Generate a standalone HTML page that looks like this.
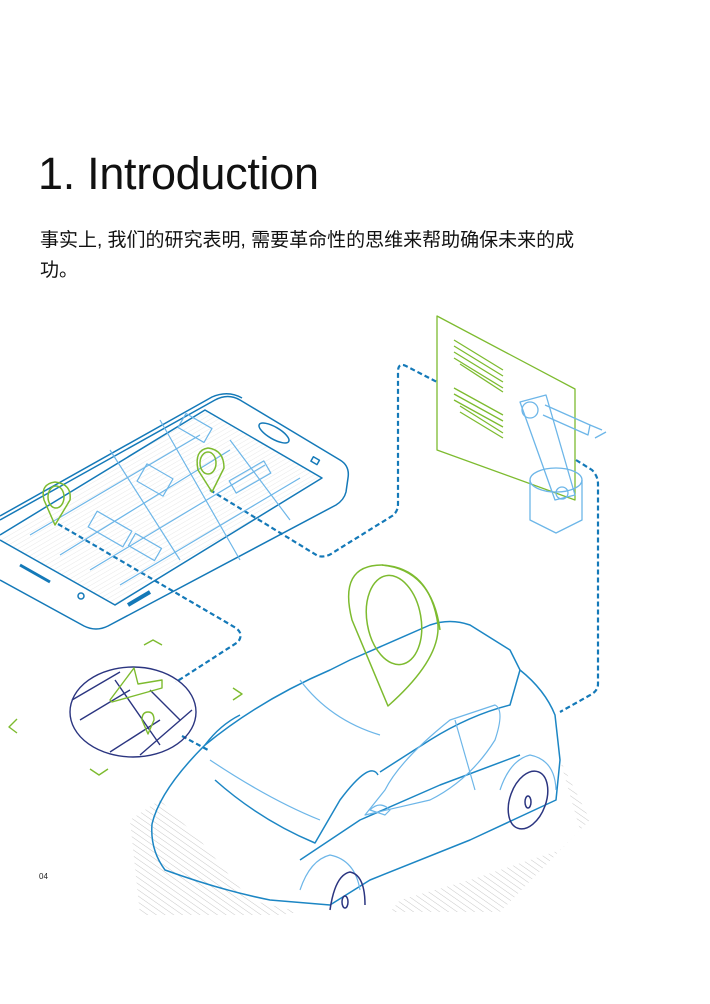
<!DOCTYPE html>
<html><head><meta charset="utf-8"><style>
html,body{margin:0;padding:0;background:#fff;}
body{width:710px;height:1004px;position:relative;overflow:hidden;font-family:"Liberation Sans","Noto Sans CJK SC",sans-serif;}
h1{position:absolute;left:38px;top:148px;margin:0;font-size:45px;font-weight:normal;color:#111;letter-spacing:-0.3px;}
p{position:absolute;left:40px;top:226px;width:572px;margin:0;font-size:19px;line-height:30px;color:#111;}
.pg{position:absolute;left:39px;top:872px;font-size:8px;color:#222;}
svg{position:absolute;left:0;top:0;}
</style></head><body>
<h1>1. Introduction</h1>
<p>事实上, 我们的研究表明, 需要革命性的思维来帮助确保未来的成功。</p>
<div class="pg">04</div>
<svg width="710" height="1004" viewBox="0 0 710 1004" fill="none" stroke-linejoin="round">
<defs><pattern id="h" width="5" height="5" patternUnits="userSpaceOnUse" patternTransform="rotate(-55)"><line x1="0" y1="0" x2="0" y2="5" stroke="#bbb" stroke-width="0.8"/></pattern>
<pattern id="h2" width="4" height="4" patternUnits="userSpaceOnUse" patternTransform="rotate(60)"><line x1="0" y1="0" x2="0" y2="4" stroke="#e4e4e4" stroke-width="0.8"/></pattern></defs>
<path d="M0 540 L205 410 L322 478 L115 605 L0 540Z" fill="url(#h2)" stroke="none"/>
<!-- shadow hatching -->
<path d="M130 820 L160 800 L200 840 L250 900 L300 912 L280 915 L140 915 Z" fill="url(#h)" stroke="none"/>
<path d="M560 760 L590 820 L560 850 L470 880 L400 900 L390 912 L500 912 L580 830 Z" fill="url(#h)" stroke="none"/>
<!-- dashed connectors -->
<g stroke="#1479b8" stroke-width="2.2" stroke-dasharray="5,3">
<path d="M210 490 L318 556 Q326 558 334 552 L392 516 Q398 512 398 504 L398 372 Q398 362 406 366 L437 382"/>
<path d="M576 460 L592 470 Q598 476 598 484 L598 684 Q598 690 592 694 L560 712"/>
<path d="M58 524 L236 628 Q244 634 238 642 L176 682"/>
<path d="M182 736 L208 750"/>
</g>
<!-- phone -->
<g stroke="#1479b8" stroke-width="1.5">
<path d="M0 520 L215 400 Q228 393 240 400 L340 460 Q350 466 348 478 L346 492 Q344 500 336 505 L108 626 Q96 632 84 626 L0 580"/>
<path d="M0 516 L212 397 Q228 390 242 398" />
<path d="M0 535 L205 410 L322 478 L115 605 L0 540"/>
<path d="M20 565 L50 582" stroke-width="3"/>
<path d="M128 605 L150 592" stroke-width="4"/>
<ellipse cx="274" cy="433" rx="17" ry="6" transform="rotate(30 274 433)"/>
<rect x="312" y="458" width="7" height="5" transform="rotate(30 315 460)"/>
<circle cx="81" cy="596" r="3"/>
</g>
<g stroke="#6db6e8" stroke-width="1.2">
<path d="M30 535 L200 435 M60 555 L230 450 M90 570 L265 465 M120 585 L300 478"/>
<path d="M110 450 L180 560 M160 420 L240 560 M230 440 L290 520"/>
<rect x="140" y="470" width="30" height="20" transform="rotate(30 155 480)"/>
<rect x="180" y="420" width="30" height="16" transform="rotate(30 195 428)"/>
<rect x="90" y="520" width="40" height="18" transform="rotate(30 110 529)"/>
<rect x="130" y="540" width="30" height="14" transform="rotate(30 145 547)"/>
<rect x="230" y="470" width="40" height="14" transform="rotate(-30 250 477)"/>
</g>
<!-- phone pins -->
<g stroke="#7dbb2f" stroke-width="1.5">
<path d="M55 525 L44 500 Q40 484 55 482 Q72 484 70 500 Z"/><ellipse cx="56" cy="497" rx="8" ry="11"/>
<path d="M212 492 L198 470 Q194 450 208 448 Q224 450 224 468 Z"/><ellipse cx="208" cy="463" rx="8" ry="11"/>
</g>
<!-- panel -->
<g stroke="#7dbb2f" stroke-width="1.3">
<path d="M437 316 L575 389 L575 500 L437 450 Z"/>
<path d="M454 340 L503 370 M454 346 L503 376 M454 352 L503 382 M454 358 L503 388 M460 364 L503 392 M454 388 L503 415 M454 394 L503 421 M454 400 L503 427 M460 406 L503 433 M460 412 L503 438"/>
</g>
<!-- robot -->
<g stroke="#6db6e8" stroke-width="1.3">
<path d="M530 480 L530 520 L556 533 L582 520 L582 480"/><ellipse cx="556" cy="480" rx="26" ry="12"/>
<path d="M520 402 L546 395 L575 495 L555 500 Z"/><circle cx="530" cy="410" r="8"/><circle cx="562" cy="493" r="6"/>
<path d="M545 405 L590 425 L588 435 L543 415"/><path d="M590 425 L602 430 M595 438 L606 432"/>
</g>
<!-- map circle -->
<g stroke="#2b3580" stroke-width="1.4">
<ellipse cx="133" cy="712" rx="63" ry="45"/>
<path d="M72 700 L120 672 M80 720 L130 690 M110 752 L160 720 M140 755 L192 710 M115 680 L160 745 M150 690 L180 720"/>
</g>
<g stroke="#7dbb2f" stroke-width="1.4">
<path d="M110 700 L134 668 L138 684 L162 680 L162 688 L112 702 Z"/>
<path d="M148 734 L142 720 Q142 712 148 712 Q154 712 154 720 Z"/>
<path d="M144 645 L153 640 L162 645 M233 688 L242 694 L233 700 M17 719 L9 727 L17 733 M90 769 L99 775 L108 769"/>
</g>
<!-- car -->
<g stroke="#1c86c4" stroke-width="1.5">
<path d="M152 824 Q160 790 205 745 Q260 700 330 670 L350 660 L430 625 Q450 618 470 625 L510 650 L520 670 Q545 690 555 715 L560 760 L556 800 L470 840 L370 880 L330 905 L270 900 Q220 890 165 870 Q150 850 152 824 Z"/>
<path d="M205 745 Q220 725 240 715"/>
<path d="M380 772 L430 740 Q470 715 510 705 L520 670"/>
<path d="M215 780 Q260 820 315 843 L340 800 Q370 760 378 775"/>
<path d="M300 860 L360 820 L440 785 L520 755"/>
</g>
<g stroke="#6db6e8" stroke-width="1.2">
<path d="M300 680 Q330 720 380 735 M210 760 Q270 800 320 820 M365 815 L385 790 Q400 760 450 720 L495 705 Q505 710 495 740 Q470 780 430 800 Z M455 720 L475 790"/>
<path d="M500 790 Q510 760 530 755 Q555 760 556 790 M300 890 Q310 860 330 855 Q355 860 360 890"/>
<path d="M370 810 Q380 800 390 810 L385 815 Z"/>
</g>
<g stroke="#2b3580" stroke-width="1.5">
<ellipse cx="528" cy="800" rx="18" ry="30" transform="rotate(20 528 800)"/>
<ellipse cx="528" cy="802" rx="3" ry="6"/>
<path d="M330 910 Q335 875 350 872 Q365 875 365 905"/><ellipse cx="345" cy="902" rx="3" ry="6"/>
</g>
<!-- big pin -->
<g stroke="#7dbb2f" stroke-width="1.5">
<path d="M388 706 L352 620 Q338 565 382 565 Q430 568 438 625 Q440 660 388 706 Z"/>
<path d="M382 565 Q432 570 440 630"/>
<ellipse cx="394" cy="620" rx="27" ry="45" transform="rotate(-10 394 620)"/>
</g>
</svg>
</body></html>
